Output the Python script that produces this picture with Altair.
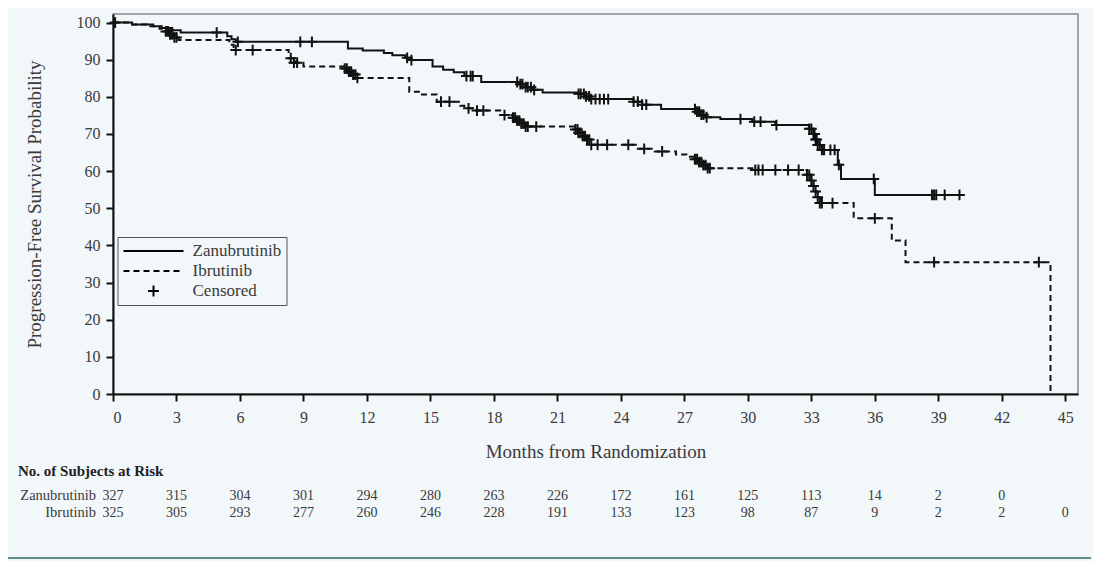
import altair as alt
import pandas as pd

# ---------------- data ----------------
zanu_month = [0, 0.9, 1.9, 2.3, 2.8, 3.2, 5.4, 5.6, 5.8, 11.1, 11.8, 12.8, 13.2, 13.8, 14.1,
              15.1, 15.6, 16.1, 16.6, 17.4, 19.2, 19.5, 19.8, 20.3, 22.0, 22.3, 22.6, 24.6,
              25.0, 25.9, 27.6, 27.8, 28.0, 28.7, 30.2, 31.3, 32.9, 33.1, 33.2, 33.3, 33.5,
              34.25, 34.4, 36.0, 40.1]
zanu_pfs = [100, 99.5, 99.0, 98.5, 97.9, 97.3, 96.3, 95.5, 94.8, 93.0, 92.5, 91.8, 91.2, 90.5, 89.9,
            88.2, 87.3, 86.6, 85.6, 84.0, 83.4, 82.6, 81.9, 81.2, 80.8, 80.1, 79.4, 78.7,
            77.9, 76.7, 76.0, 75.2, 74.5, 74.0, 73.3, 72.4, 71.4, 70.0, 68.5, 67.0, 65.7,
            61.7, 57.9, 53.6, 53.6]

ibru_month = [0, 0.8, 1.6, 2.2, 2.5, 2.7, 2.9, 3.1, 5.5, 5.7, 8.3, 8.6, 9.0, 10.95, 11.1, 11.3,
              11.5, 14.0, 14.6, 15.3, 16.4, 16.6, 17.0, 18.3, 18.9, 19.1, 19.3, 19.5, 21.85,
              22.0, 22.2, 22.4, 22.6, 24.8, 25.6, 26.6, 27.1, 27.5, 27.7, 27.9, 28.1, 30.5,
              32.8, 33.0, 33.1, 33.2, 33.3, 33.4, 35.0, 36.8, 37.45, 44.3]
ibru_pfs = [100, 99.5, 99.0, 98.3, 97.6, 96.8, 96.0, 95.3, 94.0, 92.6, 90.4, 89.2, 88.2, 87.6, 86.8,
            86.0, 85.1, 81.4, 80.6, 78.7, 77.6, 76.9, 76.3, 75.1, 74.4, 73.6, 72.8, 72.0, 71.2,
            70.3, 69.4, 68.5, 67.1, 66.0, 65.3, 64.5, 63.9, 63.2, 62.4, 61.6, 60.8, 60.3,
            59.0, 57.5, 56.0, 54.5, 53.0, 51.4, 47.3, 41.3, 35.5, 0]

zanu_cens_month = [0.1, 4.9, 5.9, 8.85, 9.4, 13.9, 14.1, 16.7, 16.9, 17.0, 19.1, 19.25, 19.35,
                   19.5, 19.6, 19.75, 19.9, 22.0, 22.1, 22.25, 22.35, 22.5, 22.6, 22.8, 23.0,
                   23.2, 23.4, 24.6, 24.8, 25.0, 25.2, 27.5, 27.6, 27.7, 27.8, 27.9, 28.05,
                   29.65, 30.3, 30.6, 31.35, 32.9, 33.0, 33.1, 33.15, 33.2, 33.25, 33.3, 33.4,
                   33.5, 33.6, 33.9, 34.1, 34.3, 35.95, 38.7, 38.8, 38.9, 39.3, 40.0]
zanu_cens_pfs = [100, 97.3, 94.8, 94.8, 94.8, 90.5, 89.9, 85.6, 85.6, 85.6, 84.0, 83.4, 83.4,
                 82.6, 82.6, 82.6, 81.9, 80.8, 80.8, 80.8, 80.1, 80.1, 79.4, 79.4, 79.4,
                 79.4, 79.4, 78.7, 78.7, 77.9, 77.9, 76.7, 76.0, 76.0, 75.2, 75.2, 74.5,
                 74.0, 73.3, 73.3, 72.4, 71.4, 71.4, 70.0, 70.0, 68.5, 68.5, 67.0, 67.0,
                 65.7, 65.7, 65.7, 65.7, 61.7, 57.9, 53.6, 53.6, 53.6, 53.6, 53.6]

ibru_cens_month = [2.5, 2.6, 2.7, 2.8, 2.9, 3.0, 5.8, 6.6, 8.4, 8.55, 8.7, 10.95, 11.05, 11.15,
                   11.25, 11.35, 11.45, 11.55, 15.5, 15.9, 16.8, 17.2, 17.5, 18.5, 18.9, 19.0,
                   19.1, 19.2, 19.3, 19.4, 19.5, 19.6, 20.0, 21.85, 21.95, 22.0, 22.1, 22.2,
                   22.3, 22.4, 22.5, 22.6, 22.9, 23.35, 24.35, 25.1, 25.95, 27.5, 27.6, 27.7,
                   27.8, 27.9, 28.0, 28.1, 28.2, 30.35, 30.5, 30.7, 31.3, 31.9, 32.4, 32.8,
                   32.9, 33.0, 33.1, 33.2, 33.3, 33.4, 33.5, 34.0, 36.0, 38.8, 43.75]
ibru_cens_pfs = [97.6, 97.6, 96.8, 96.8, 96.0, 96.0, 92.6, 92.6, 90.4, 89.2, 89.2, 87.6, 87.6, 86.8,
                 86.8, 86.0, 86.0, 85.1, 78.7, 78.7, 76.9, 76.3, 76.3, 75.1, 74.4, 74.4,
                 73.6, 73.6, 72.8, 72.8, 72.0, 72.0, 72.0, 71.2, 71.2, 70.3, 70.3, 69.4,
                 69.4, 68.5, 68.5, 67.1, 67.1, 67.1, 67.1, 66.0, 65.3, 63.2, 63.2, 62.4,
                 62.4, 61.6, 61.6, 60.8, 60.8, 60.3, 60.3, 60.3, 60.3, 60.3, 60.3, 59.0,
                 59.0, 57.5, 56.0, 54.5, 53.0, 51.4, 51.4, 51.4, 47.3, 35.5, 35.5]

risk_months = [0, 3, 6, 9, 12, 15, 18, 21, 24, 27, 30, 33, 36, 39, 42, 45]
zanu_risk = [327, 315, 304, 301, 294, 280, 263, 226, 172, 161, 125, 113, 14, 2, 0]
ibru_risk = [325, 305, 293, 277, 260, 246, 228, 191, 133, 123, 98, 87, 9, 2, 2, 0]

arms = ["Zanubrutinib", "Ibrutinib", "Censored"]
y_ticks = [0, 10, 20, 30, 40, 50, 60, 70, 80, 90, 100]

# ---------------- tables ----------------
steps = pd.concat([
    pd.DataFrame({"month": zanu_month, "pfs": zanu_pfs, "arm": "Zanubrutinib"}),
    pd.DataFrame({"month": ibru_month, "pfs": ibru_pfs, "arm": "Ibrutinib"}),
])
cens = pd.concat([
    pd.DataFrame({"month": zanu_cens_month, "pfs": zanu_cens_pfs}),
    pd.DataFrame({"month": ibru_cens_month, "pfs": ibru_cens_pfs}),
])
cens["arm"] = "Censored"
zanu_tab = pd.DataFrame({"month": risk_months[:len(zanu_risk)], "n": zanu_risk})
ibru_tab = pd.DataFrame({"month": risk_months[:len(ibru_risk)], "n": ibru_risk})
header = pd.DataFrame({"t": ["No. of Subjects at Risk"]})

BG = "#f2f7fa"
FONT = "Liberation Serif"
TXT = "#3a3a3a"
ROW1_Y = 482
ROW2_Y = 499

x_scale = alt.Scale(domain=[0, 45.6], nice=False, zero=False)
y_scale = alt.Scale(domain=[0, 102.3], nice=False)

legend = alt.Legend(
    title=None, orient="none", legendX=4.5, legendY=223,
    strokeColor="#555555", fillColor=BG, padding=5,
    symbolSize=3600, symbolStrokeWidth=2, symbolStrokeColor="black",
    symbolFillColor="transparent",
    labelFont=FONT, labelFontSize=17, labelColor=TXT, labelOffset=8,
    clipHeight=18, rowPadding=2,
)

x_axis = alt.Axis(values=risk_months, title="Months from Randomization", labelOverlap=False)
y_axis = alt.Axis(values=y_ticks, tickCount=11, title="Progression-Free Survival Probability",
                  labelOverlap=False)

lines = alt.Chart(steps).mark_line(interpolate="step-after", strokeWidth=2, color="#111111").encode(
    x=alt.X("month:Q", scale=x_scale, axis=x_axis),
    y=alt.Y("pfs:Q", scale=y_scale, axis=y_axis),
    strokeDash=alt.StrokeDash("arm:N", scale=alt.Scale(domain=arms, range=[[1, 0], [6, 4], [1, 0]]),
                              legend=legend),
    detail="arm:N",
)

plus = "M-0.18,0H0.18M0,-0.18V0.18"
points = alt.Chart(cens).mark_point(filled=False, strokeWidth=2, color="#111111", size=3600, opacity=1).encode(
    x=alt.X("month:Q", scale=x_scale, axis=x_axis),
    y=alt.Y("pfs:Q", scale=y_scale, axis=y_axis),
    shape=alt.Shape("arm:N", scale=alt.Scale(domain=arms, range=["stroke", "stroke", plus]),
                    legend=legend),
)

txt = dict(font=FONT, fontSize=14, color=TXT, baseline="middle")
risk1 = alt.Chart(zanu_tab).mark_text(**txt).encode(x="month:Q", y=alt.value(ROW1_Y), text="n:Q")
risk2 = alt.Chart(ibru_tab).mark_text(**txt).encode(x="month:Q", y=alt.value(ROW2_Y), text="n:Q")
lab_txt = dict(font=FONT, fontSize=14.5, color=TXT, baseline="middle", align="right")
lab1 = alt.Chart(header).mark_text(**lab_txt).encode(
    x=alt.value(-17), y=alt.value(ROW1_Y), text=alt.value("Zanubrutinib"))
lab2 = alt.Chart(header).mark_text(**lab_txt).encode(
    x=alt.value(-17), y=alt.value(ROW2_Y), text=alt.value("Ibrutinib"))
risk_header = alt.Chart(header).mark_text(font=FONT, fontSize=15, fontWeight="bold", color="#222222",
                                          align="left", baseline="middle").encode(
    x=alt.value(-95), y=alt.value(457), text="t:N",
)
bottom_rule = alt.Chart(header).mark_rule(color="#5f8f86", strokeWidth=2).encode(
    x=alt.value(-105), x2=alt.value(978), y=alt.value(544),
)

chart = alt.layer(lines, points, risk1, risk2, lab1, lab2, risk_header, bottom_rule).properties(
    width=965, height=380,
    background=BG,
    padding={"left": 105, "top": 6, "right": 15, "bottom": 167},
    autosize=alt.AutoSizeParams(type="none"),
).configure_view(
    stroke="#8a8a8a", strokeWidth=1.5, fill=BG,
).configure_axis(
    grid=False, domainColor="#111111", domainWidth=2, tickColor="#111111", tickWidth=2, tickSize=7,
    labelFont=FONT, labelFontSize=16, labelColor=TXT, labelPadding=6,
    titleFont=FONT, titleFontSize=19, titleFontWeight="normal", titleColor=TXT,
).configure_axisX(labelPadding=8, titlePadding=17).configure_axisY(titlePadding=32, titleFontSize=19)

chart.save("out.html", embed_options={"renderer": "svg", "actions": False})
